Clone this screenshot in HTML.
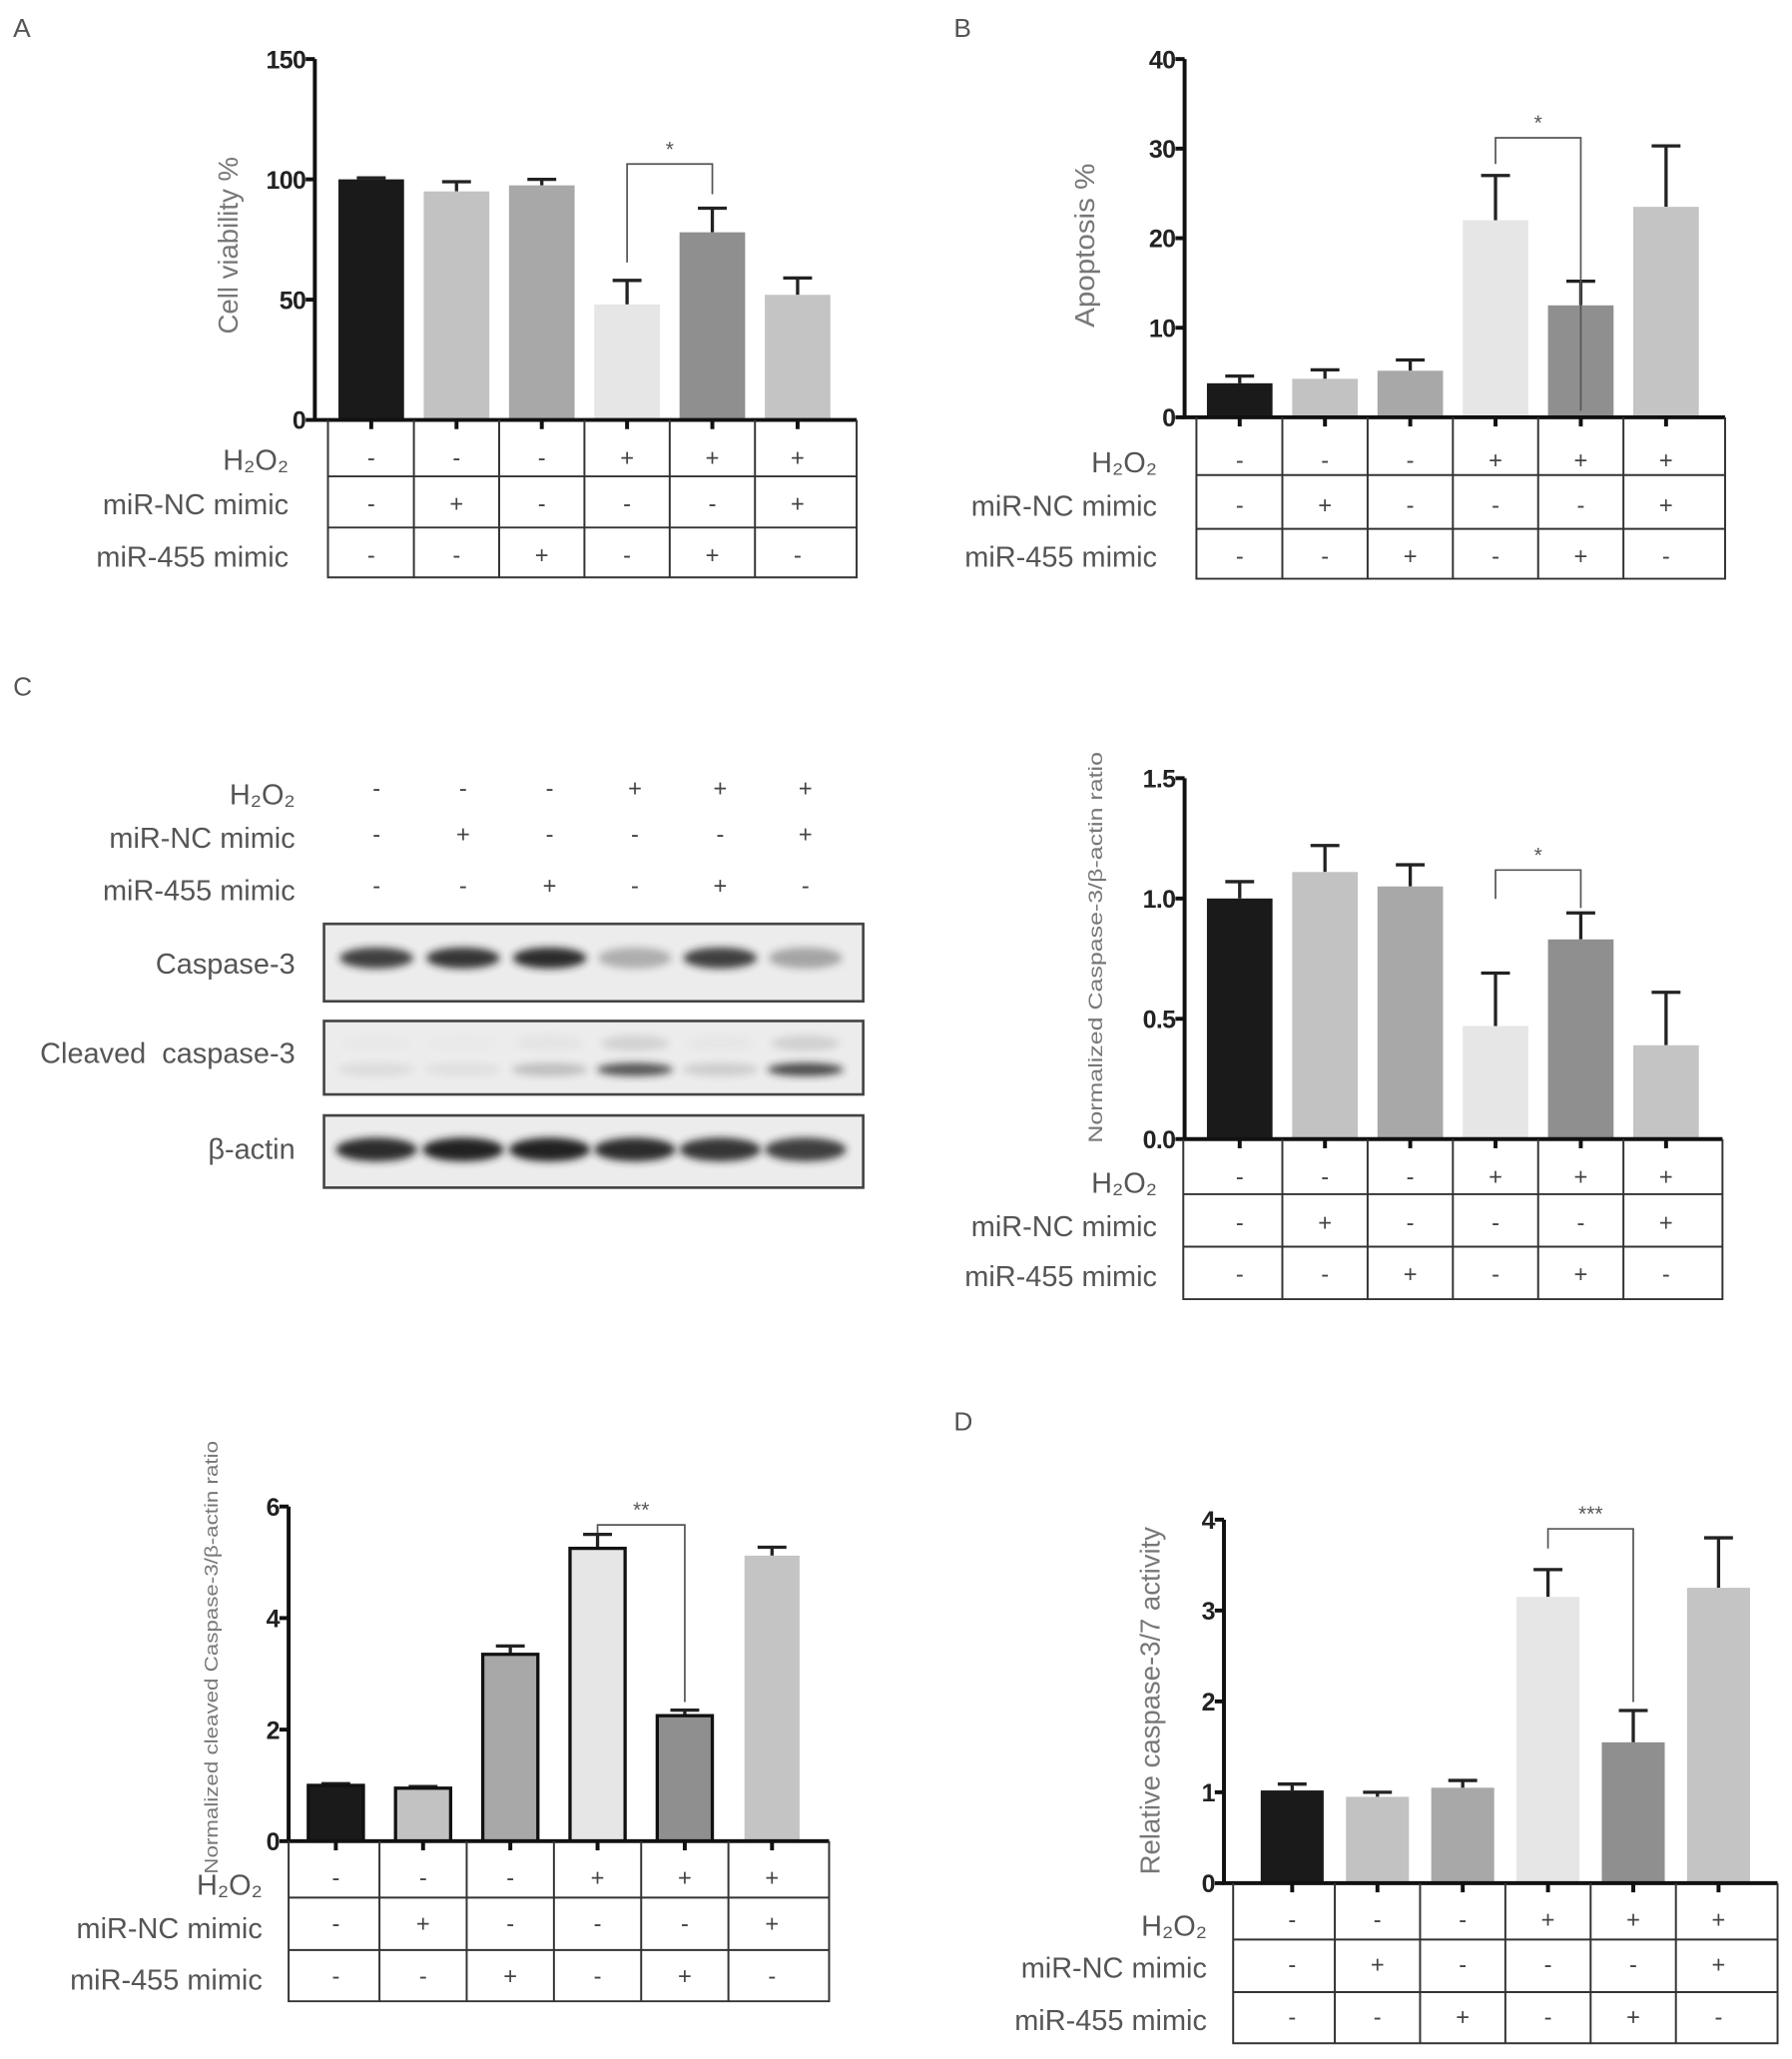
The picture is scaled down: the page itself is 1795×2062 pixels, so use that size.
<!DOCTYPE html>
<html><head><meta charset="utf-8"><style>
html,body{margin:0;padding:0;background:#fff}
svg{display:block}
text{font-family:"Liberation Sans",sans-serif}
</style></head><body>
<svg id="fig" width="1795" height="2062" viewBox="0 0 1366 1569" preserveAspectRatio="none" xmlns="http://www.w3.org/2000/svg">
<defs><filter id="blur" x="-20%" y="-50%" width="140%" height="200%"><feGaussianBlur stdDeviation="3"/></filter></defs>
<text x="10" y="28" font-size="20" fill="#555">A</text>
<text x="727" y="28" font-size="20" fill="#555">B</text>
<text x="10" y="530" font-size="20" fill="#555">C</text>
<text x="727" y="1090" font-size="20" fill="#555">D</text>
<g id="blot"></g>
</svg>
<script>
// Shared conditions
const conditionRows = ["H\u2082O\u2082", "miR-NC mimic", "miR-455 mimic"];
const h2o2Signs = ["-","-","-","+","+","+"];
const ncSigns = ["-","+","-","-","-","+"];
const mir455Signs = ["-","-","+","-","+","-"];
const barColors = ["#1a1a1a","#c2c2c2","#a8a8a8","#e6e6e6","#8f8f8f","#c4c4c4"];

// Panel A: cell viability
const aValues = [100, 95, 97.5, 48, 78, 52];
const aErrors = [0.6, 4, 2.5, 10, 10, 7];
const aTicks = [0, 50, 100, 150];
// Panel B: apoptosis
const bValues = [3.8, 4.3, 5.2, 22, 12.5, 23.5];
const bErrors = [0.8, 1, 1.2, 5, 2.7, 6.8];
const bTicks = [0, 10, 20, 30, 40];
// Panel C: caspase-3 / actin
const cValues = [1.0, 1.11, 1.05, 0.47, 0.83, 0.39];
const cErrors = [0.07, 0.11, 0.09, 0.22, 0.11, 0.22];
const cTicks = [0.0, 0.5, 1.0, 1.5];
const cTickLabels = ["0.0","0.5","1.0","1.5"];
// Panel C lower: cleaved caspase-3 / actin
const eValues = [1.0, 0.95, 3.35, 5.25, 2.25, 5.12];
const eErrors = [0.03, 0.03, 0.15, 0.25, 0.1, 0.15];
const eTicks = [0, 2, 4, 6];
// Panel D: caspase-3/7 activity
const dValues = [1.02, 0.95, 1.05, 3.15, 1.55, 3.25];
const dErrors = [0.07, 0.05, 0.08, 0.3, 0.35, 0.55];
const dTicks = [0, 1, 2, 3, 4];

const NS = "http://www.w3.org/2000/svg";
const svg = document.getElementById("fig");
function mk(tag, attrs, parent, txt){
  const e = document.createElementNS(NS, tag);
  for (const k in attrs) e.setAttribute(k, attrs[k]);
  if (txt !== undefined) e.textContent = txt;
  (parent || svg).appendChild(e);
  return e;
}

function chart(cfg){
  const g = mk("g", {});
  
  
  const yMax = cfg.ticks[cfg.ticks.length-1];
  const ys = v => cfg.y0 - (v / yMax) * (cfg.y0 - cfg.yTop);
  const xs = i => cfg.x0 + i * cfg.step;
  cfg.values.forEach((v, i) => {
    const top = ys(v + cfg.errors[i]);
    const eb = mk("path", {d:`M${xs(i)},${ys(v)} V${top} M${xs(i)-11},${top} H${xs(i)+11}`, stroke:"#222", "stroke-width":2.5, fill:"none"}, g);
    
    
    const outline = cfg.outline && i < 5;
    const r = mk("rect", {x:xs(i)-cfg.bw/2, y:ys(v), width:cfg.bw, height:cfg.y0-ys(v), fill:barColors[i], stroke: outline ? "#111" : "none", "stroke-width": outline ? 2.5 : 0}, g);
    
    
  });
  const ax = mk("path", {d:`M${cfg.axisX},${cfg.yTop} V${cfg.y0} H${cfg.tRight}`, stroke:"#111", "stroke-width":3, fill:"none"}, g);
  
  
  cfg.ticks.forEach((t, k) => {
    mk("line", {x1:cfg.axisX-7, x2:cfg.axisX, y1:ys(t), y2:ys(t), stroke:"#111", "stroke-width":3}, g);
    const tl = mk("text", {x:cfg.axisX-7, y:ys(t)+7, "font-size":19, "font-weight":"bold", fill:"#222", "text-anchor":"end", "letter-spacing":"-0.5"}, g, cfg.tickLabels ? cfg.tickLabels[k] : String(t));
    
    
  });
  const yl = mk("text", {x:0, y:0, "font-size":cfg.ylSize, fill:"#777", "text-anchor":"middle", textLength:cfg.ylLen, lengthAdjust:"spacingAndGlyphs", transform:`translate(${cfg.ylX},${cfg.ylY}) rotate(-90)`}, g, cfg.ylabel);
  
  
  const b = cfg.bracket;
  const br = mk("path", {d:`M${xs(3)},${b.l} V${b.y} H${xs(4)} V${b.r}`, stroke:"#555", "stroke-width":1.3, fill:"none"}, g);
  
  
  const st = mk("text", {x:(xs(3)+xs(4))/2, y:b.y-6, "font-size":16, fill:"#555", "text-anchor":"middle"}, g, b.star);
  
  
  const t = cfg.table;
  const tg = mk("g", {}, g);
  
  
  const rows = t.rows;
  mk("path", {d:`M${t.left},${cfg.y0} V${rows[3]} H${cfg.tRight} V${cfg.y0} M${t.left},${rows[1]} H${cfg.tRight} M${t.left},${rows[2]} H${cfg.tRight}`, stroke:"#333", "stroke-width":1.5, fill:"none"}, tg);
  for (let i = 0; i < 5; i++) {
    const xm = (xs(i) + xs(i+1)) / 2;
    mk("line", {x1:xm, x2:xm, y1:cfg.y0, y2:rows[3], stroke:"#333", "stroke-width":1.5}, tg);
  }
  for (let i = 0; i < 6; i++) mk("line", {x1:xs(i), x2:xs(i), y1:cfg.y0, y2:cfg.y0+7, stroke:"#111", "stroke-width":3}, tg);
  const signs = [h2o2Signs, ncSigns, mir455Signs];
  conditionRows.forEach((lab, r) => {
    const ly = t.labelY[r];
    const rl = mk("text", {x:t.labelX, y:ly, "font-size":22, fill:"#555", "text-anchor":"end"}, tg, lab);
    
    
    signs[r].forEach((s, i) => {
      const sg = mk("text", {x:xs(i), y:t.signY[r], "font-size":18, fill:"#444", "text-anchor":"middle"}, tg, s);
      
      
    });
  });
}

chart({name:"cell-viability-chart", values:aValues, errors:aErrors, ticks:aTicks, x0:283, step:65, bw:50,
  axisX:240, y0:320, yTop:45, tRight:653, ylabel:"Cell viability %", ylSize:21, ylLen:135, ylX:181, ylY:187,
  bracket:{l:200, y:125, r:148, star:"*"},
  table:{left:250, rows:[320,363,402,440], labelX:220, labelY:[358,392,432], signY:[355,390,429]}});

chart({name:"apoptosis-chart", values:bValues, errors:bErrors, ticks:bTicks, x0:945, step:65, bw:50,
  axisX:903, y0:318, yTop:45, tRight:1315, ylabel:"Apoptosis %", ylSize:21, ylLen:125, ylX:834, ylY:187,
  bracket:{l:125, y:105, r:313, star:"*"},
  table:{left:912, rows:[318,362,403,441], labelX:882, labelY:[360,393,432], signY:[357,391,430]}});

chart({name:"caspase3-ratio-chart", values:cValues, errors:cErrors, ticks:cTicks, tickLabels:cTickLabels, x0:945, step:65, bw:50,
  axisX:903, y0:868, yTop:593, tRight:1313, ylabel:"Normalized Caspase-3/\u03b2-actin ratio", ylSize:15, ylLen:298, ylX:840, ylY:722,
  bracket:{l:685, y:663, r:692, star:"*"},
  table:{left:902, rows:[868,910,950,990], labelX:882, labelY:[909,942,980], signY:[903,938,977]}});

chart({name:"cleaved-caspase3-ratio-chart", values:eValues, errors:eErrors, ticks:eTicks, x0:256, step:66.5, bw:42, outline:true,
  axisX:220, y0:1403, yTop:1148, tRight:632, ylabel:"Normalized cleaved Caspase-3/\u03b2-actin ratio", ylSize:14, ylLen:330, ylX:166, ylY:1263,
  bracket:{l:1168, y:1162, r:1297, star:"**"},
  table:{left:220, rows:[1403,1446,1486,1525], labelX:200, labelY:[1444,1477,1516], signY:[1437,1472,1512]}});

chart({name:"caspase37-activity-chart", values:dValues, errors:dErrors, ticks:dTicks, x0:985, step:65, bw:48,
  axisX:933, y0:1435, yTop:1158, tRight:1355, ylabel:"Relative caspase-3/7 activity", ylSize:21, ylLen:265, ylX:884, ylY:1296,
  bracket:{l:1180, y:1165, r:1297, star:"***"},
  table:{left:940, rows:[1435,1478,1518,1557], labelX:920, labelY:[1475,1507,1547], signY:[1469,1503,1543]}});

// Western blot
const blotLanes = [287, 353, 419, 484, 549, 614];
const casp3Band = [0.85, 0.9, 0.95, 0.3, 0.85, 0.35];
const cleavedBand = [0.08, 0.06, 0.22, 0.75, 0.15, 0.8];
const actinBand = [0.95, 1.0, 1.0, 0.95, 0.9, 0.85];
const blot = document.getElementById("blot");
const blotSigns = [h2o2Signs, ncSigns, mir455Signs];
const blotSignY = [607, 642, 681];
const blotLabY = [613, 646, 686];
conditionRows.forEach((lab, r) => {
  const t = mk("text", {x:225, y:blotLabY[r], "font-size":22, fill:"#555", "text-anchor":"end"}, blot, lab);
  
  
  blotSigns[r].forEach((s, i) => {
    const sg = mk("text", {x:blotLanes[i], y:blotSignY[r], "font-size":18, fill:"#444", "text-anchor":"middle"}, blot, s);
    
    
  });
});
const panels = [
  {name:"caspase3-blot", label:"Caspase-3", y:704, h:59, ly:742, band:casp3Band, by:730, bh:8, rx:28},
  {name:"cleaved-caspase3-blot", label:"Cleaved\u00a0\u00a0caspase-3", y:778, h:56, ly:810, band:cleavedBand, by:815, bh:5, rx:29},
  {name:"beta-actin-blot", label:"\u03b2-actin", y:850, h:55, ly:883, band:actinBand, by:876, bh:9, rx:31}
];
panels.forEach(p => {
  const pg = mk("g", {}, blot);
  
  
  mk("rect", {x:247, y:p.y, width:411, height:p.h, fill:"#ececec", stroke:"#444", "stroke-width":2}, pg);
  const l = mk("text", {x:225, y:p.ly, "font-size":22, fill:"#555", "text-anchor":"end"}, pg, p.label);
  
  
  p.band.forEach((v, i) => {
    const e = mk("ellipse", {cx:blotLanes[i], cy:p.by, rx:p.rx, ry:p.bh, fill:"#222", opacity:v, filter:"url(#blur)"}, pg);
    
    
  });
  if (p.name === "cleaved-caspase3-blot") {
    p.band.forEach((v, i) => {
      mk("ellipse", {cx:blotLanes[i], cy:795, rx:26, ry:6, fill:"#666", opacity:v*0.25, filter:"url(#blur)"}, pg);
    });
  }
});
</script>
</body></html>
